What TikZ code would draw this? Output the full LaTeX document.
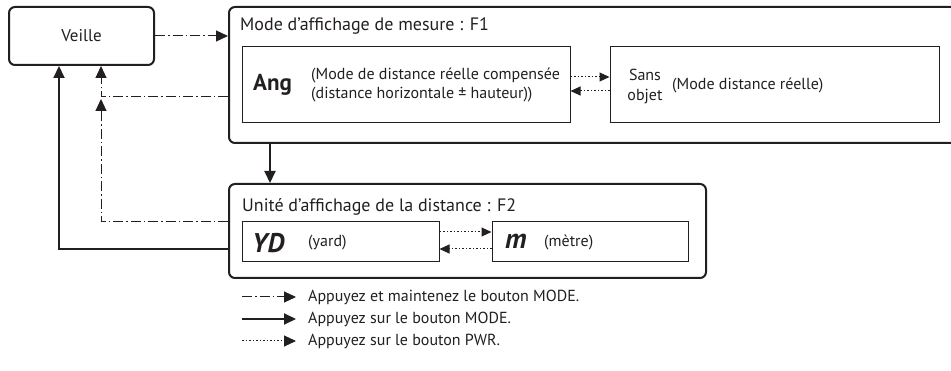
\documentclass[tikz,border=0pt]{standalone}
\usepackage{fontspec}
\setmainfont{PT Sans}
\usetikzlibrary{arrows.meta,calc}
\definecolor{ink}{HTML}{231F20}
\begin{document}
\begin{tikzpicture}[x=1pt,y=-1pt,
  every node/.style={text=ink},
  outerbox/.style={draw=ink,line width=2pt,rounded corners=6pt,minimum width=#1},
  innerbox/.style={draw=ink,line width=1pt},
  txt/.style={inner sep=0pt,anchor=west,font=\fontsize{16}{19}\selectfont},
  ttl/.style={inner sep=0pt,anchor=west,font=\fontsize{18}{21}\selectfont},
  ddline/.style={draw=ink,line width=1pt,dash pattern=on 10pt off 3pt on 1.5pt off 3pt},
  solidline/.style={draw=ink,line width=2pt},
  dotline/.style={draw=ink,line width=1pt,dash pattern=on 1.5pt off 2pt},
  tipbig/.style={-{Triangle[length=12pt,width=11pt]}},
  tipsmall/.style={-{Triangle[length=10pt,width=9pt]}},
]
\useasboundingbox (0,0) rectangle (951,371);
\clip (0,0) rectangle (951,371);
% boxes
\node[outerbox=145pt,minimum height=58pt] (veille) at (81.5,36) {};
\node[outerbox=731pt,minimum height=136pt] (f1) at (594.5,75) {};
\node[innerbox,minimum width=328pt,minimum height=76pt] (ang) at (406,85) {};
\node[innerbox,minimum width=329pt,minimum height=76pt] (sans) at (774.5,85) {};
\node[outerbox=477pt,minimum height=94pt] (f2) at (467.5,231) {};
\node[innerbox,minimum width=197pt,minimum height=40pt] (yd) at (340.5,242) {};
\node[innerbox,minimum width=196pt,minimum height=40pt] (mbox) at (590,242) {};
% texts
\node[font=\fontsize{17}{20}\selectfont] (tveille) at (veille.center) {Veille};
\node[ttl] (tf1) at (240,26) {Mode d’affichage de mesure : F1};
\node[txt,font=\fontsize{23}{26}\selectfont\bfseries] (tang) at (253,85) {Ang};
\node[txt,align=left] (tangp) at (311,85) {(Mode de distance réelle compensée\\(distance horizontale ± hauteur))};
\node[inner sep=0pt,align=center,font=\fontsize{16}{20}\selectfont] (tsans) at (645,87) {Sans\\objet};
\node[txt] (tsansp) at (672,86) {(Mode distance réelle)};
\node[ttl] (tf2) at (242,207) {Unité d’affichage de la distance : F2};
\node[txt,font=\fontsize{27}{30}\selectfont\bfseries\itshape] (tyd) at (252,243) {YD};
\node[txt] (tydp) at (308,243) {(yard)};
\node[txt,font=\fontsize{28}{30}\selectfont\bfseries\itshape] (tm) at (505,241) {m};
\node[txt] (tmp) at (544,243) {(mètre)};
% junction coordinates
\coordinate (j1) at (101,97);
\coordinate (j2) at (101,99);
\coordinate (j3) at (59,249);
\coordinate (jf2a) at (101,222);
% connectors
\draw[ddline,tipbig] (veille.east) -- (veille.east -| f1.west);
\draw[ddline,tipbig] (f1.west |- j1) -| (veille.south -| j1);
\draw[ddline,tipbig] (f2.west |- jf2a) -| (j2);
\draw[solidline,tipbig] (f2.west |- j3) -| (veille.south -| j3);
\coordinate (jd) at (270,0);
\draw[solidline,tipbig] (f1.south -| jd) -- (f2.north -| jd);
\coordinate (ya) at (0,77);
\coordinate (yb) at (0,91);
\draw[dotline,tipsmall] (ang.east |- ya) -- (sans.west |- ya);
\draw[dotline,tipsmall] (sans.west |- yb) -- (ang.east |- yb);
\coordinate (yc) at (0,232);
\coordinate (ye) at (0,249);
\draw[dotline,tipsmall] (yd.east |- yc) -- (mbox.west |- yc);
\draw[dotline,tipsmall] (mbox.west |- ye) -- (yd.east |- ye);
% legend
\coordinate (l1a) at (242,297); \coordinate (l1b) at (296,297);
\coordinate (l2a) at (242,319); \coordinate (l2b) at (296,319);
\coordinate (l3a) at (242,341); \coordinate (l3b) at (296,341);
\draw[ddline,tipbig] (l1a) -- (l1b);
\draw[solidline,tipbig] (l2a) -- (l2b);
\draw[dotline,tipbig] (l3a) -- (l3b);
\node[txt] (lt1) at (308,297) {Appuyez et maintenez le bouton MODE.};
\node[txt] (lt2) at (308,319) {Appuyez sur le bouton MODE.};
\node[txt] (lt3) at (308,341) {Appuyez sur le bouton PWR.};
\end{tikzpicture}
\end{document}
